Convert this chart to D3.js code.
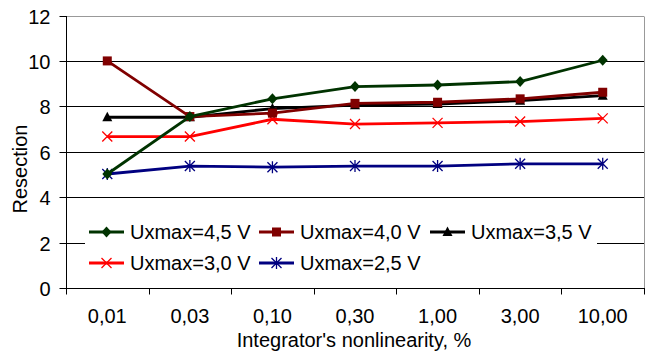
<!DOCTYPE html>
<html><head><meta charset="utf-8">
<script src="https://cdn.jsdelivr.net/npm/d3@7"></script>
<style>body{margin:0;background:#fff}svg{display:block}text{font-family:"Liberation Sans",Arial,sans-serif}</style>
</head><body><svg id="c" width="655" height="352"></svg>
<script>
const categories = ["0,01","0,03","0,10","0,30","1,00","3,00","10,00"];
const seriesNames = ["Uxmax=4,5 V","Uxmax=4,0 V","Uxmax=3,5 V","Uxmax=3,0 V","Uxmax=2,5 V"];
const u45 = [5.02, 7.55, 8.33, 8.87, 8.94, 9.09, 10.03];
const u40 = [10.0, 7.55, 7.7, 8.13, 8.18, 8.33, 8.62];
const u35 = [7.52, 7.52, 7.9, 8.05, 8.1, 8.25, 8.47];
const u30 = [6.67, 6.67, 7.43, 7.22, 7.27, 7.33, 7.47];
const u25 = [5.02, 5.37, 5.32, 5.37, 5.37, 5.47, 5.47];
const yTicks = [0,2,4,6,8,10,12];
const colors = ["#003300","#800000","#000000","#ff0000","#000080"];
const markers = ["diamond","square","triangle","x","asterisk"];
const data = [u45,u40,u35,u30,u25];

const FS = 20;
const svg = d3.select("#c");
const L=66, R=644, T=15.5, B=288;
const x = d3.scaleBand().domain(categories).range([L,R]);
const y = d3.scaleLinear().domain([0,12]).range([B,T]);

// gridlines
svg.append("g").selectAll("line").data(yTicks.filter(d=>d>0)).join("line")
  .attr("x1",L).attr("x2",R).attr("y1",d=>Math.round(y(d))+0.5).attr("y2",d=>Math.round(y(d))+0.5)
  .attr("stroke",d=>d===12?"#999":"#000").attr("stroke-width",1);
// right border
svg.append("line").attr("x1",R+0.5).attr("x2",R+0.5).attr("y1",Math.round(T)+0.5).attr("y2",B).attr("stroke","#999");

// axes
const yAxis = d3.axisLeft(y).tickValues(yTicks).tickSize(7).tickPadding(9).tickFormat(d3.format("d"));
const gy = svg.append("g").attr("transform",`translate(${L+0.5},0)`).call(yAxis);
gy.selectAll(".tick").attr("transform",d=>`translate(0,${Math.round(y(d))+0.5})`);
gy.select(".domain").attr("d",`M0,${Math.round(T)}V${B+0.5}`);
gy.selectAll("text").attr("font-size",FS).attr("fill","#000").attr("font-family","Liberation Sans, Arial").attr("dy","0.35em");

const gx = svg.append("g").attr("transform",`translate(0,${B+0.5})`);
gx.append("line").attr("x1",L).attr("x2",R+1).attr("stroke","#000");
const bounds = d3.range(categories.length+1).map(i=>L+i*x.step());
gx.selectAll("line.t").data(bounds).join("line").attr("class","t")
  .attr("x1",d=>Math.round(d)+0.5).attr("x2",d=>Math.round(d)+0.5).attr("y1",0).attr("y2",6).attr("stroke","#000");
gx.selectAll("text").data(categories).join("text")
  .attr("x",d=>x(d)+x.bandwidth()/2).attr("y",34.5).attr("text-anchor","middle")
  .attr("font-size",FS).text(d=>d);

svg.append("text").attr("x",354).attr("y",346.5).attr("text-anchor","middle").attr("font-size",FS).text("Integrator's nonlinearity, %");
svg.append("text").attr("transform","translate(27,169) rotate(-90)").attr("text-anchor","middle").attr("font-size",FS).text("Resection");

function drawMarker(g, type, cx, cy, color){
  const s=5;
  if(type==="diamond") g.append("path").attr("d",`M${cx},${cy-s-0.5}L${cx+s},${cy}L${cx},${cy+s+0.5}L${cx-s},${cy}Z`).attr("fill",color);
  else if(type==="square") g.append("rect").attr("x",cx-4.5).attr("y",cy-4.5).attr("width",9).attr("height",9).attr("fill",color);
  else if(type==="triangle") g.append("path").attr("d",`M${cx},${cy-5.5}L${cx+5},${cy+4}L${cx-5},${cy+4}Z`).attr("fill",color);
  else if(type==="x") g.append("path").attr("d",`M${cx-5},${cy-5}L${cx+5},${cy+5}M${cx-5},${cy+5}L${cx+5},${cy-5}`).attr("stroke",color).attr("stroke-width",1.3);
  else if(type==="asterisk") g.append("path").attr("d",`M${cx-5},${cy-5}L${cx+5},${cy+5}M${cx-5},${cy+5}L${cx+5},${cy-5}M${cx},${cy-6}L${cx},${cy+6}`).attr("stroke",color).attr("stroke-width",1.3);
}

const line = d3.line().x((d,i)=>x(categories[i])+x.bandwidth()/2).y(d=>y(d));
[4,3,2,1,0].forEach(k=>{
  const g = svg.append("g");
  g.append("path").attr("d",line(data[k])).attr("fill","none").attr("stroke",colors[k]).attr("stroke-width",2.8);
  data[k].forEach((v,i)=>drawMarker(g,markers[k],x(categories[i])+x.bandwidth()/2,y(v),colors[k]));
});

// legend
const lg = svg.append("g");
lg.append("rect").attr("x",85).attr("y",206).attr("width",512).attr("height",70).attr("fill","#fff");
const pos = [[89,232],[259,232],[430,232],[89,263],[259,263]];
seriesNames.forEach((n,k)=>{
  const [lx,ly]=pos[k];
  lg.append("line").attr("x1",lx).attr("x2",lx+35).attr("y1",ly).attr("y2",ly).attr("stroke",colors[k]).attr("stroke-width",2.8);
  drawMarker(lg,markers[k],lx+17.5,ly,colors[k]);
  lg.append("text").attr("x",lx+41).attr("y",ly+7).attr("font-size",FS).text(n);
});
</script></body></html>
